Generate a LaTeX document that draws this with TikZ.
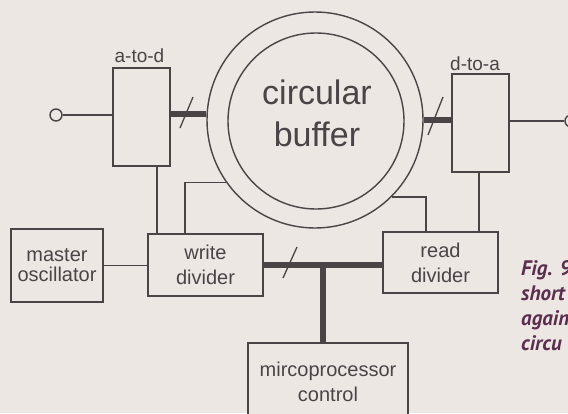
\documentclass[tikz,border=0pt]{standalone}
\usepackage{fontspec}
\setmainfont{Liberation Sans}
\newfontfamily\capfont{PT Sans}
\usepackage{xcolor}
\usepackage{tikz}
\usetikzlibrary{calc,positioning}
\definecolor{inkc}{HTML}{4A4446}
\definecolor{paperc}{HTML}{ECE7E3}
\definecolor{capc}{HTML}{5B2D4E}
\tikzset{
  ln/.style={draw=inkc,line width=1.4pt},
  bus/.style={draw=inkc,line width=6pt},
  busmark/.style={draw=inkc,line width=1.3pt},
  box/.style={draw=inkc,line width=1.4pt,fill=paperc,align=center,inner sep=0pt,
    text=inkc,font=\fontsize{20}{25}\selectfont},
  lbl/.style={text=inkc,inner sep=0pt,font=\fontsize{19}{22}\selectfont},
  term/.style={circle,draw=inkc,line width=1.4pt,fill=paperc,minimum size=12pt,inner sep=0pt}
}
\begin{document}
\begin{tikzpicture}[x=1pt,y=-1pt]
\useasboundingbox (0,0) rectangle (568,413);
\fill[paperc] (0,0) rectangle (568,413);
\clip (0,0) rectangle (568,413);
% buffer ring
\node[circle,draw=inkc,line width=1.4pt,minimum size=216pt,inner sep=0pt] (buf) at (315,120) {};
\node[circle,draw=inkc,line width=1.4pt,minimum size=176pt,inner sep=0pt] (bufin) at (316,121) {};
\node[text=inkc,align=center,font=\fontsize{34}{42}\selectfont] (buftxt) at (317,113) {circular\\buffer};
% converters
\node[box,minimum width=57pt,minimum height=98pt] (ad) at (141.5,117) {};
\node[box,minimum width=57pt,minimum height=98pt] (da) at (480.5,123) {};
\node[lbl] (adl) at (139.5,56) {a-to-d};
\node[lbl] (dal) at (475,64) {d-to-a};
\node[term] (in) at (56,115) {};
\node[term] (out) at (571,121) {};
% dividers and control
\node[box,minimum width=92pt,minimum height=73pt] (ms) at (57,265.5) {master\\[-5pt]oscillator};
\node[box,minimum width=115pt,minimum height=62pt] (wr) at (205.5,265) {write\\divider};
\node[box,minimum width=115pt,minimum height=61pt] (rd) at (440.5,262.5) {read\\divider};
\node[box,minimum width=160pt,minimum height=77pt] (mc) at (328,381.5) {mircoprocessor\\control};
% signal lines
\draw[ln] (in) -- (in -| ad.west);
\draw[ln] (da.east |- out) -- (out);
\draw[ln] (ad.south -| 157,0) -- (wr.north -| 157,0);
\draw[ln] (wr.north -| 185,0) |- (buf.215);
\draw[ln] (buf.-45) -| (rd.north -| 426,0);
\draw[ln] (da.south -| 479,0) -- (rd.north -| 479,0);
\draw[ln] (ms.east) -- (ms.east -| wr.west);
% data buses
\draw[bus] (ad.east |- buf.177) -- (buf.177);
\draw[bus] (buf.east) -- (buf.east -| da.west);
\draw[bus] (wr.east) -- (wr.east -| rd.west);
\draw[bus] (mc.north -| 323,0) -- (wr.east -| 323,0);
\coordinate (s1) at (186.5,112.5);
\coordinate (s2) at (435.5,116);
\coordinate (s3) at (290,262.5);
\draw[busmark] ($(s1)+(-6.5,15.5)$) -- ($(s1)+(6.5,-15.5)$);
\draw[busmark] ($(s2)+(-7.5,19)$) -- ($(s2)+(7.5,-19)$);
\draw[busmark] ($(s3)+(-7,15.5)$) -- ($(s3)+(7,-15.5)$);
% caption
\node[anchor=north west,inner sep=0pt,align=left,text=capc,
  font=\capfont\bfseries\itshape\fontsize{21}{25}\selectfont] (cap) at (521,260) {Fig. 9\\short\\again\\circu};
\end{tikzpicture}
\end{document}
